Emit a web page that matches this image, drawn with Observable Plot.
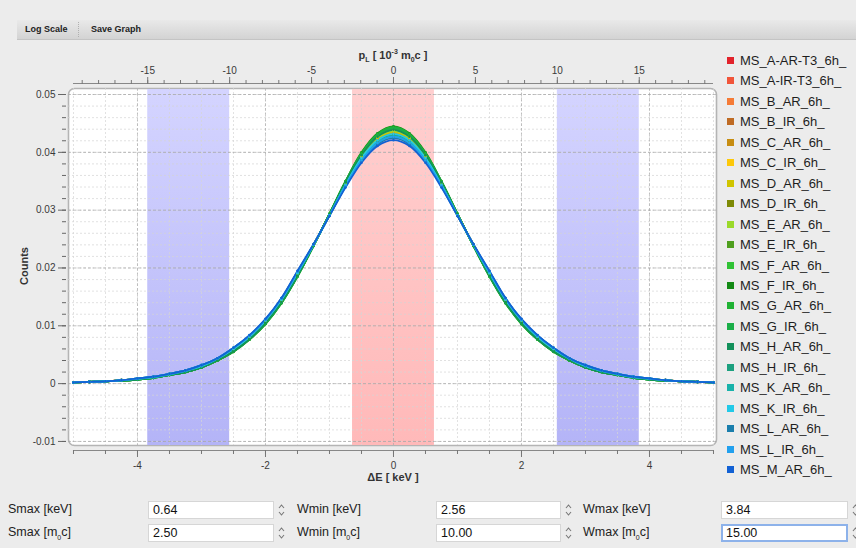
<!DOCTYPE html>
<html>
<head>
<meta charset="utf-8">
<script src="https://cdn.jsdelivr.net/npm/d3@7"></script>
<script src="https://cdn.jsdelivr.net/npm/@observablehq/plot@0.6"></script>
<style>
  html, body { margin: 0; padding: 0; }
  body { width: 856px; height: 548px; overflow: hidden; background: #ececec; position: relative;
         font-family: "Liberation Sans", Arial, Helvetica, sans-serif; color: #222; }
  .abs { position: absolute; white-space: nowrap; }
  #toolbar { left: 17px; top: 20px; width: 839px; height: 19px;
             background: linear-gradient(#e9e9e9, #d3d3d3); border-bottom: 1px solid #c4c4c4; }
  #toolbar span { position: absolute; top: 4px; font-size: 9px; font-weight: bold; color: #222; }
  #toolbar .sep { position: absolute; left: 61px; top: 2px; height: 15px; border-left: 1px dotted #b0b0b0; }
  #chart { left: 0; top: 0; }
  .axtitle { font-size: 11px; font-weight: bold; color: #333; }
  .legend-item { position: absolute; left: 726px; font-size: 13px; color: #1e1e1e; height: 15px; line-height: 15px; }
  .legend-item i { position: absolute; left: 1px; top: 4px; width: 7px; height: 7px; }
  .legend-item b { font-weight: normal; position: absolute; left: 14px; top: 0; }
  .ctl-label { font-size: 12.5px; color: #222; }
  .ctl-box { height: 18px; background: #fff; border: 1px solid #d6d6d6; box-sizing: border-box;
             font-size: 12.5px; line-height: 16px; padding-left: 4px; color: #111; }
  .ctl-box.focus { border: 2px solid #8db2ea; line-height: 14px; padding-left: 3px; }
  .spin { width: 9px; height: 16px; }
  sub, sup { font-size: 7px; line-height: 0; }
</style>
</head>
<body>
<script>
// ---------------- data ----------------
const seriesNames = [
  "MS_A-AR-T3_6h_","MS_A-IR-T3_6h_","MS_B_AR_6h_","MS_B_IR_6h_","MS_C_AR_6h_","MS_C_IR_6h_",
  "MS_D_AR_6h_","MS_D_IR_6h_","MS_E_AR_6h_","MS_E_IR_6h_","MS_F_AR_6h_","MS_F_IR_6h_",
  "MS_G_AR_6h_","MS_G_IR_6h_","MS_H_AR_6h_","MS_H_IR_6h_","MS_K_AR_6h_","MS_K_IR_6h_",
  "MS_L_AR_6h_","MS_L_IR_6h_","MS_M_AR_6h_"
];
const seriesColors = [
  "#e2232b","#f1553a","#f57b36","#bf6b24","#c78d12","#fdc80a","#d0c400","#7e8a06","#9bd92a","#4f9f1e","#30c235",
  "#138a15","#20b234","#1aae48","#12905a","#1ca07f","#19b2aa","#22c9e8","#1a7eac","#22a0ee","#1261d4"
];
// energy shift ΔE [keV] of the measured points
const dE = [-5,-4.75,-4.5,-4.25,-4,-3.75,-3.5,-3.25,-3,-2.75,-2.5,-2.25,-2,-1.75,-1.5,-1.25,-1,-0.75,-0.5,-0.25,0,
            0.25,0.5,0.75,1,1.25,1.5,1.75,2,2.25,2.5,2.75,3,3.25,3.5,3.75,4,4.25,4.5,4.75,5];
// counts (normalised) per series, same order as seriesNames
const ms_A_AR_T3 = [0.0002,0.0003,0.0004,0.0006,0.0008,0.0011,0.0016,0.0022,0.0030,0.0042,0.0059,0.0080,0.0108,0.0144,0.0190,0.0240,0.0292,0.0345,0.0392,0.0423,0.0434,0.0423,0.0392,0.0345,0.0292,0.0240,0.0190,0.0144,0.0108,0.0080,0.0059,0.0042,0.0030,0.0022,0.0016,0.0011,0.0008,0.0006,0.0004,0.0003,0.0002];
const ms_A_IR_T3 = [0.0002,0.0003,0.0004,0.0006,0.0008,0.0011,0.0016,0.0022,0.0030,0.0042,0.0058,0.0079,0.0107,0.0143,0.0189,0.0239,0.0292,0.0346,0.0393,0.0425,0.0436,0.0425,0.0393,0.0346,0.0292,0.0239,0.0189,0.0143,0.0107,0.0079,0.0058,0.0042,0.0030,0.0022,0.0016,0.0011,0.0008,0.0006,0.0004,0.0003,0.0002];
const ms_B_AR = [0.0002,0.0003,0.0004,0.0006,0.0008,0.0011,0.0016,0.0022,0.0030,0.0042,0.0058,0.0079,0.0107,0.0143,0.0189,0.0239,0.0292,0.0347,0.0394,0.0426,0.0437,0.0426,0.0394,0.0347,0.0292,0.0239,0.0189,0.0143,0.0107,0.0079,0.0058,0.0042,0.0030,0.0022,0.0016,0.0011,0.0008,0.0006,0.0004,0.0003,0.0002];
const ms_B_IR = [0.0002,0.0003,0.0004,0.0006,0.0008,0.0011,0.0016,0.0022,0.0030,0.0043,0.0060,0.0081,0.0109,0.0145,0.0191,0.0240,0.0291,0.0344,0.0389,0.0420,0.0431,0.0420,0.0389,0.0344,0.0291,0.0240,0.0191,0.0145,0.0109,0.0081,0.0060,0.0043,0.0030,0.0022,0.0016,0.0011,0.0008,0.0006,0.0004,0.0003,0.0002];
const ms_C_AR = [0.0002,0.0003,0.0004,0.0006,0.0008,0.0011,0.0016,0.0022,0.0030,0.0042,0.0059,0.0080,0.0108,0.0144,0.0190,0.0240,0.0292,0.0345,0.0391,0.0422,0.0433,0.0422,0.0391,0.0345,0.0292,0.0240,0.0190,0.0144,0.0108,0.0080,0.0059,0.0042,0.0030,0.0022,0.0016,0.0011,0.0008,0.0006,0.0004,0.0003,0.0002];
const ms_C_IR = [0.0002,0.0003,0.0004,0.0006,0.0008,0.0011,0.0016,0.0022,0.0030,0.0042,0.0058,0.0079,0.0107,0.0143,0.0189,0.0239,0.0293,0.0347,0.0395,0.0427,0.0438,0.0427,0.0395,0.0347,0.0293,0.0239,0.0189,0.0143,0.0107,0.0079,0.0058,0.0042,0.0030,0.0022,0.0016,0.0011,0.0008,0.0006,0.0004,0.0003,0.0002];
const ms_D_AR = [0.0002,0.0003,0.0004,0.0006,0.0008,0.0011,0.0016,0.0022,0.0030,0.0042,0.0059,0.0080,0.0108,0.0144,0.0190,0.0240,0.0292,0.0346,0.0393,0.0424,0.0435,0.0424,0.0393,0.0346,0.0292,0.0240,0.0190,0.0144,0.0108,0.0080,0.0059,0.0042,0.0030,0.0022,0.0016,0.0011,0.0008,0.0006,0.0004,0.0003,0.0002];
const ms_D_IR = [0.0002,0.0003,0.0004,0.0005,0.0007,0.0010,0.0015,0.0020,0.0028,0.0040,0.0056,0.0077,0.0105,0.0141,0.0187,0.0239,0.0293,0.0348,0.0396,0.0428,0.0440,0.0428,0.0396,0.0348,0.0293,0.0239,0.0187,0.0141,0.0105,0.0077,0.0056,0.0040,0.0028,0.0020,0.0015,0.0010,0.0007,0.0005,0.0004,0.0003,0.0002];
const ms_E_AR = [0.0002,0.0003,0.0004,0.0006,0.0008,0.0011,0.0016,0.0022,0.0030,0.0042,0.0058,0.0079,0.0107,0.0143,0.0189,0.0239,0.0292,0.0347,0.0394,0.0426,0.0437,0.0426,0.0394,0.0347,0.0292,0.0239,0.0189,0.0143,0.0107,0.0079,0.0058,0.0042,0.0030,0.0022,0.0016,0.0011,0.0008,0.0006,0.0004,0.0003,0.0002];
const ms_E_IR = [0.0002,0.0003,0.0004,0.0005,0.0007,0.0010,0.0015,0.0020,0.0028,0.0040,0.0056,0.0077,0.0105,0.0141,0.0187,0.0239,0.0293,0.0349,0.0397,0.0429,0.0441,0.0429,0.0397,0.0349,0.0293,0.0239,0.0187,0.0141,0.0105,0.0077,0.0056,0.0040,0.0028,0.0020,0.0015,0.0010,0.0007,0.0005,0.0004,0.0003,0.0002];
const ms_F_AR = [0.0002,0.0003,0.0004,0.0005,0.0007,0.0010,0.0015,0.0020,0.0028,0.0040,0.0056,0.0077,0.0104,0.0140,0.0186,0.0238,0.0293,0.0349,0.0398,0.0430,0.0442,0.0430,0.0398,0.0349,0.0293,0.0238,0.0186,0.0140,0.0104,0.0077,0.0056,0.0040,0.0028,0.0020,0.0015,0.0010,0.0007,0.0005,0.0004,0.0003,0.0002];
const ms_F_IR = [0.0002,0.0003,0.0004,0.0005,0.0007,0.0010,0.0015,0.0020,0.0028,0.0040,0.0055,0.0076,0.0103,0.0139,0.0185,0.0238,0.0294,0.0350,0.0400,0.0433,0.0445,0.0433,0.0400,0.0350,0.0294,0.0238,0.0185,0.0139,0.0103,0.0076,0.0055,0.0040,0.0028,0.0020,0.0015,0.0010,0.0007,0.0005,0.0004,0.0003,0.0002];
const ms_G_AR = [0.0002,0.0003,0.0004,0.0005,0.0007,0.0010,0.0015,0.0020,0.0028,0.0040,0.0055,0.0076,0.0103,0.0139,0.0185,0.0238,0.0294,0.0350,0.0399,0.0432,0.0444,0.0432,0.0399,0.0350,0.0294,0.0238,0.0185,0.0139,0.0103,0.0076,0.0055,0.0040,0.0028,0.0020,0.0015,0.0010,0.0007,0.0005,0.0004,0.0003,0.0002];
const ms_G_IR = [0.0002,0.0003,0.0004,0.0005,0.0007,0.0010,0.0015,0.0020,0.0028,0.0040,0.0056,0.0077,0.0104,0.0140,0.0186,0.0238,0.0293,0.0348,0.0397,0.0430,0.0442,0.0430,0.0397,0.0348,0.0293,0.0238,0.0186,0.0140,0.0104,0.0077,0.0056,0.0040,0.0028,0.0020,0.0015,0.0010,0.0007,0.0005,0.0004,0.0003,0.0002];
const ms_H_AR = [0.0002,0.0003,0.0004,0.0005,0.0007,0.0010,0.0015,0.0020,0.0028,0.0041,0.0056,0.0077,0.0105,0.0141,0.0187,0.0239,0.0293,0.0348,0.0395,0.0427,0.0439,0.0427,0.0395,0.0348,0.0293,0.0239,0.0187,0.0141,0.0105,0.0077,0.0056,0.0041,0.0028,0.0020,0.0015,0.0010,0.0007,0.0005,0.0004,0.0003,0.0002];
const ms_H_IR = [0.0002,0.0003,0.0004,0.0006,0.0008,0.0011,0.0016,0.0022,0.0030,0.0043,0.0060,0.0081,0.0109,0.0145,0.0191,0.0240,0.0291,0.0343,0.0389,0.0420,0.0430,0.0420,0.0389,0.0343,0.0291,0.0240,0.0191,0.0145,0.0109,0.0081,0.0060,0.0043,0.0030,0.0022,0.0016,0.0011,0.0008,0.0006,0.0004,0.0003,0.0002];
const ms_K_AR = [0.0002,0.0003,0.0004,0.0006,0.0009,0.0012,0.0017,0.0023,0.0032,0.0044,0.0062,0.0083,0.0111,0.0147,0.0193,0.0240,0.0291,0.0342,0.0387,0.0417,0.0428,0.0417,0.0387,0.0342,0.0291,0.0240,0.0193,0.0147,0.0111,0.0083,0.0062,0.0044,0.0032,0.0023,0.0017,0.0012,0.0009,0.0006,0.0004,0.0003,0.0002];
const ms_K_IR = [0.0002,0.0003,0.0004,0.0006,0.0008,0.0011,0.0016,0.0022,0.0030,0.0043,0.0060,0.0081,0.0109,0.0145,0.0191,0.0240,0.0291,0.0344,0.0390,0.0421,0.0432,0.0421,0.0390,0.0344,0.0291,0.0240,0.0191,0.0145,0.0109,0.0081,0.0060,0.0043,0.0030,0.0022,0.0016,0.0011,0.0008,0.0006,0.0004,0.0003,0.0002];
const ms_L_AR = [0.0002,0.0003,0.0004,0.0006,0.0009,0.0012,0.0017,0.0023,0.0032,0.0044,0.0062,0.0083,0.0111,0.0148,0.0194,0.0241,0.0290,0.0341,0.0385,0.0414,0.0425,0.0414,0.0385,0.0341,0.0290,0.0241,0.0194,0.0148,0.0111,0.0083,0.0062,0.0044,0.0032,0.0023,0.0017,0.0012,0.0009,0.0006,0.0004,0.0003,0.0002];
const ms_L_IR = [0.0002,0.0003,0.0004,0.0006,0.0009,0.0012,0.0017,0.0023,0.0032,0.0044,0.0062,0.0083,0.0111,0.0147,0.0193,0.0240,0.0291,0.0342,0.0386,0.0416,0.0427,0.0416,0.0386,0.0342,0.0291,0.0240,0.0193,0.0147,0.0111,0.0083,0.0062,0.0044,0.0032,0.0023,0.0017,0.0012,0.0009,0.0006,0.0004,0.0003,0.0002];
const ms_M_AR = [0.0002,0.0003,0.0004,0.0006,0.0009,0.0012,0.0017,0.0023,0.0032,0.0044,0.0062,0.0084,0.0112,0.0148,0.0195,0.0241,0.0290,0.0339,0.0382,0.0411,0.0421,0.0411,0.0382,0.0339,0.0290,0.0241,0.0195,0.0148,0.0112,0.0084,0.0062,0.0044,0.0032,0.0023,0.0017,0.0012,0.0009,0.0006,0.0004,0.0003,0.0002];
const seriesValues = [ms_A_AR_T3, ms_A_IR_T3, ms_B_AR, ms_B_IR, ms_C_AR, ms_C_IR, ms_D_AR, ms_D_IR, ms_E_AR, ms_E_IR,
  ms_F_AR, ms_F_IR, ms_G_AR, ms_G_IR, ms_H_AR, ms_H_IR, ms_K_AR, ms_K_IR, ms_L_AR, ms_L_IR, ms_M_AR];

// window settings (S and W regions)
const smaxKeV = 0.64, wminKeV = 2.56, wmaxKeV = 3.84;
const smaxM = 2.50, wminM = 10.00, wmaxM = 15.00;

// tick values
const yMajorTicks = [-0.01, 0, 0.01, 0.02, 0.03, 0.04, 0.05];
const yMinorTicks = d3.range(-0.01, 0.0501, 0.002).map(v => +v.toFixed(3));
const xMajorTicks = [-4, -2, 0, 2, 4];
const xMinorTicks = d3.range(-5, 5.01, 0.5);
const pMajorTicks = [-15, -10, -5, 0, 5, 10, 15];
const pMinorTicks = d3.range(-19, 20, 1);

const xDomain = [-5.078, 5.047];
const yDomain = [-0.0107, 0.05104];
const keVperP = wmaxKeV / wmaxM;

// ---------------- table ----------------
const rows = [];
seriesNames.forEach((name, i) => seriesValues[i].forEach((v, j) => rows.push({name, dE: dE[j], v})));
const wBands = [{x1: -wmaxKeV, x2: -wminKeV}, {x1: wminKeV, x2: wmaxKeV}];
const sBands = [{x1: -smaxKeV, x2: smaxKeV}];

const chart = Plot.plot({
  width: 856, height: 548,
  marginLeft: 68, marginRight: 140, marginTop: 88, marginBottom: 103,
  x: {domain: xDomain, label: null},
  y: {domain: yDomain, label: null},
  color: {domain: seriesNames, range: seriesColors},
  style: {background: "transparent", fontSize: "10px", fontFamily: "'Liberation Sans', Arial, sans-serif", color: "#333", overflow: "visible"},
  marks: [
    Plot.frame({fill: "white", stroke: "#b4b4b4", strokeWidth: 1.6, rx: 6}),
    Plot.rect(wBands, {x1: "x1", x2: "x2", fill: "url(#gBlue)", insetTop: 1, insetBottom: 0}),
    Plot.rect(sBands, {x1: "x1", x2: "x2", fill: "url(#gRed)", insetTop: 1, insetBottom: 0}),
    Plot.gridY(yMinorTicks, {stroke: "#d4d4d4", strokeOpacity: 0.7, strokeDasharray: "2,2"}),
    Plot.gridX(xMinorTicks, {stroke: "#d4d4d4", strokeOpacity: 0.7, strokeDasharray: "2,2"}),
    Plot.gridY(yMajorTicks, {stroke: "#9a9a9a", strokeOpacity: 0.6, strokeDasharray: "3,2"}),
    Plot.gridX(xMajorTicks, {stroke: "#9a9a9a", strokeOpacity: 0.5, strokeDasharray: "3,2"}),
    // left axis
    Plot.axisY(yMinorTicks, {anchor: "left", tickSize: 4, dx: -2, tickFormat: () => "", label: null, stroke: "#666"}),
    Plot.axisY(yMajorTicks, {anchor: "left", tickSize: 8, dx: -2, tickPadding: 3, label: null, stroke: "#666", fill: "#3a3a3a",
      tickFormat: d => d === 0 ? "0" : d.toFixed(2)}),
    // bottom axis
    Plot.ruleY([yDomain[0]], {x1: -5, x2: 5, dy: 5, stroke: "#888"}),
    Plot.axisX(xMinorTicks, {anchor: "bottom", tickSize: 4, dy: 5, tickFormat: () => "", label: null, stroke: "#777"}),
    Plot.axisX(xMajorTicks, {anchor: "bottom", tickSize: 7, dy: 5, tickPadding: 4, label: null, stroke: "#777", fill: "#3a3a3a",
      tickFormat: d => String(d)}),
    // top axis (momentum)
    Plot.ruleY([yDomain[1]], {x1: -5, x2: 5, dy: -5, stroke: "#888"}),
    Plot.axisX(pMinorTicks.map(p => p * keVperP), {anchor: "top", tickSize: 4, dy: -5, tickFormat: () => "", label: null, stroke: "#777"}),
    Plot.axisX(pMajorTicks.map(p => p * keVperP), {anchor: "top", tickSize: 7, dy: -5, tickPadding: 3, label: null, stroke: "#777", fill: "#3a3a3a",
      tickFormat: d => String(Math.round(d / keVperP))}),
    // series
    Plot.line(rows, {x: "dE", y: "v", z: "name", stroke: "name", strokeWidth: 1.7, curve: "catmull-rom"}),
    Plot.dot(rows, {x: "dE", y: "v", fill: "name", r: 1.3})
  ]
});

const svg = d3.select(chart);
const defs = svg.insert("defs", ":first-child");
const gb = defs.append("linearGradient").attr("id", "gBlue").attr("x1", 0).attr("y1", 0).attr("x2", 0).attr("y2", 1);
gb.append("stop").attr("offset", "0%").attr("stop-color", "#d4d4ff");
gb.append("stop").attr("offset", "100%").attr("stop-color", "#b4b4f7");
const gr = defs.append("linearGradient").attr("id", "gRed").attr("x1", 0).attr("y1", 0).attr("x2", 0).attr("y2", 1);
gr.append("stop").attr("offset", "0%").attr("stop-color", "#ffcfcf");
gr.append("stop").attr("offset", "100%").attr("stop-color", "#ffb9b9");

const wrap = document.createElement("div");
wrap.className = "abs"; wrap.id = "chart";
wrap.appendChild(chart);
document.body.appendChild(wrap);

// ---------------- overlays ----------------
function add(html, cls, style) {
  const d = document.createElement("div");
  d.className = "abs " + (cls || "");
  d.innerHTML = html;
  Object.assign(d.style, style || {});
  document.body.appendChild(d);
  return d;
}
const sx = chart.scale("x");
const cx = sx.apply(0);

add('<span style="left:8px">Log Scale</span><div class="sep"></div><span style="left:74px">Save Graph</span>', "", {}).id = "toolbar";
add('p<sub>L</sub> [ 10<sup>-3</sup> m<sub>0</sub>c ]', "axtitle", {left: cx + "px", top: "49px", transform: "translateX(-50%)"});
add('ΔE [ keV ]', "axtitle", {left: cx + "px", top: "471px", transform: "translateX(-50%)"});
add('Counts', "axtitle", {left: "24px", top: "266px", transform: "translate(-50%,-50%) rotate(-90deg)"});

seriesNames.forEach((n, i) => {
  add('<i style="background:' + seriesColors[i] + '"></i><b>' + n + '</b>', "legend-item", {top: (53 + i * 20.45) + "px"});
});

const spinSvg = '<svg class="spin" viewBox="0 0 9 16"><path d="M2 6 L4.5 3 L7 6" fill="none" stroke="#777" stroke-width="1.1"/><path d="M2 10 L4.5 13 L7 10" fill="none" stroke="#777" stroke-width="1.1"/></svg>';
const controls = [
  {row: 0, label: 'Smax [keV]', lx: 8, bx: 148, bw: 126, val: smaxKeV.toFixed(2)},
  {row: 0, label: 'Wmin [keV]', lx: 297, bx: 436, bw: 125, val: wminKeV.toFixed(2)},
  {row: 0, label: 'Wmax [keV]', lx: 583, bx: 721, bw: 127, val: wmaxKeV.toFixed(2)},
  {row: 1, label: 'Smax [m<sub>0</sub>c]', lx: 8, bx: 148, bw: 126, val: smaxM.toFixed(2)},
  {row: 1, label: 'Wmin [m<sub>0</sub>c]', lx: 297, bx: 436, bw: 125, val: wminM.toFixed(2)},
  {row: 1, label: 'Wmax [m<sub>0</sub>c]', lx: 583, bx: 721, bw: 127, val: wmaxM.toFixed(2), focus: true}
];
controls.forEach(c => {
  const top = 501 + c.row * 23;
  add(c.label, "ctl-label", {left: c.lx + "px", top: (top + 1) + "px"});
  add(c.val, "ctl-box" + (c.focus ? " focus" : ""), {left: c.bx + "px", top: top + "px", width: c.bw + "px"});
  add(spinSvg, "", {left: (c.bx + c.bw + 3) + "px", top: (top + 1) + "px"});
});
</script>
</body>
</html>
